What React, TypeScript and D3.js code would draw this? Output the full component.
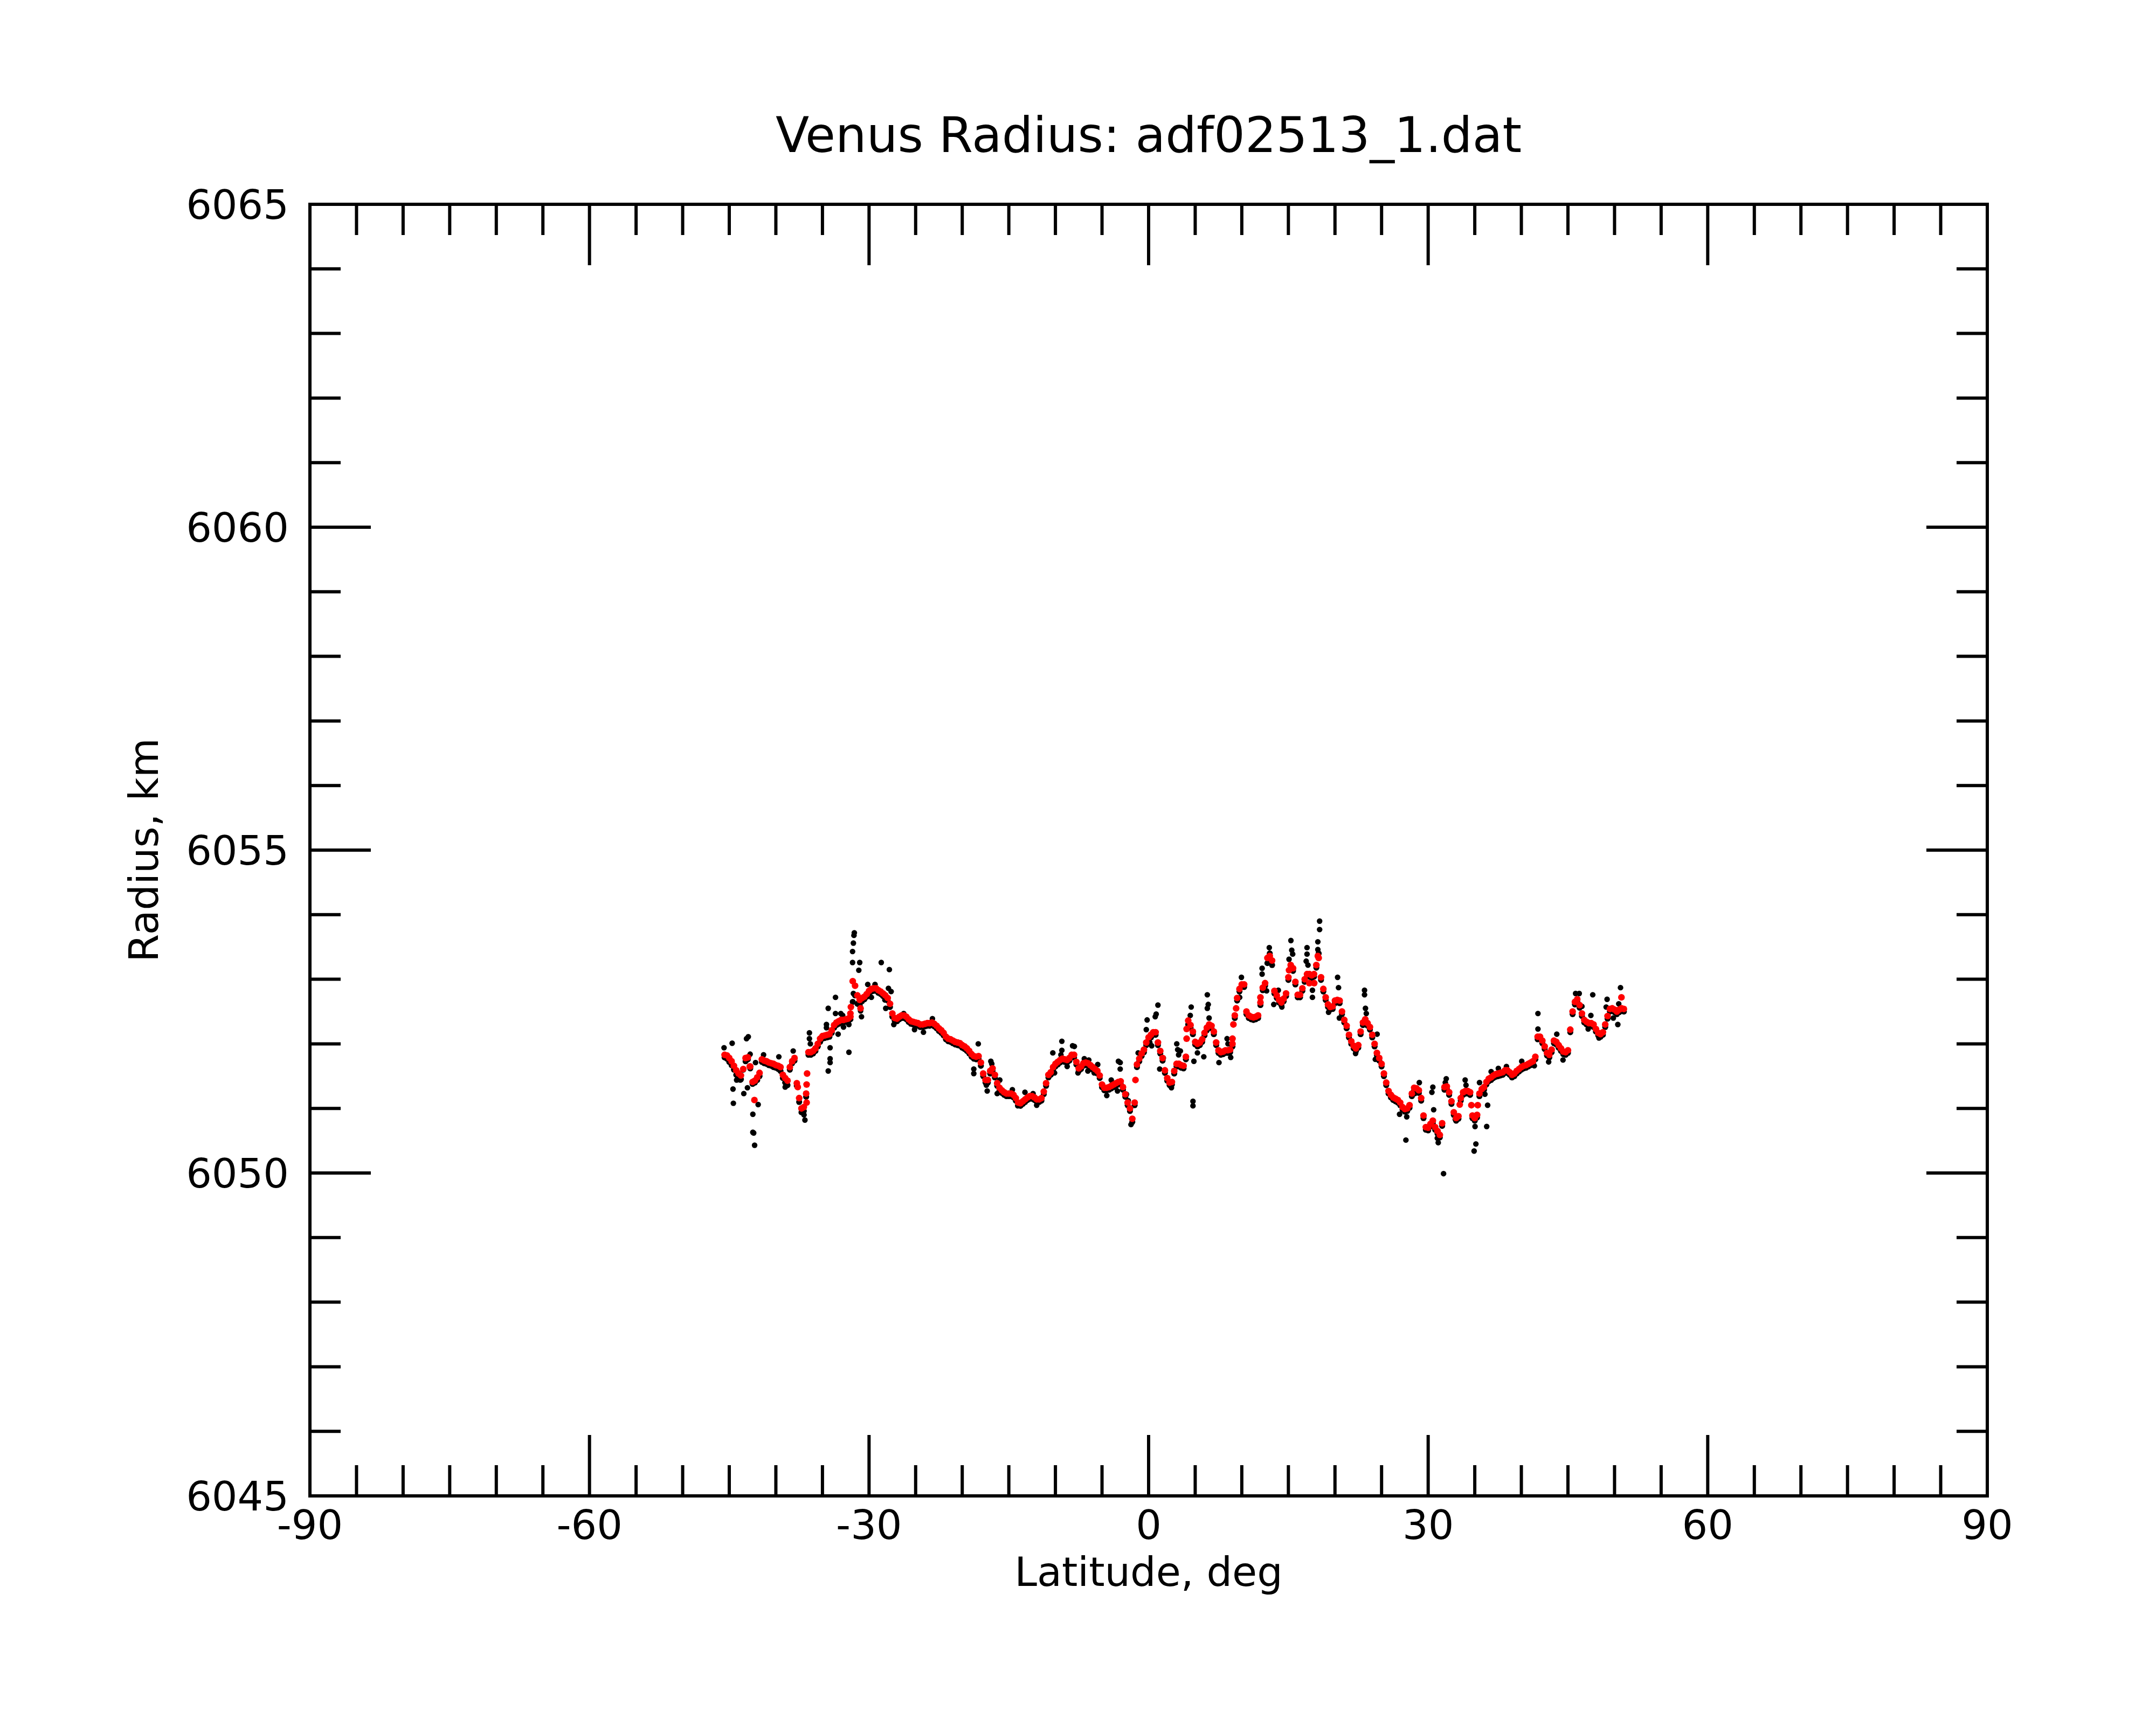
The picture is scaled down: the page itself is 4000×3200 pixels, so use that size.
import React from "react";
import * as d3 from "d3";

// ---- data ----
const latStart = -45.5;
const latStep = 0.25;

// smoothed radius (red), km, every 0.25 deg from -45.5 to 51.0
const redRadius: number[] = [
  6051.83, 6051.82, 6051.78, 6051.73, 6051.66, 6051.59, 6051.54, 6051.51, 6051.61, 6051.78,
  6051.79, 6051.65, 6051.41, 6051.43, 6051.48, 6051.55, 6051.76, 6051.74, 6051.73, 6051.71,
  6051.70, 6051.69, 6051.67, 6051.66, 6051.64, 6051.52, 6051.47, 6051.43, 6051.64, 6051.73,
  6051.78, 6051.39, 6051.16, 6051.00, 6051.02, 6051.23, 6051.87, 6051.87, 6051.89, 6051.93,
  6052.00, 6052.08, 6052.12, 6052.13, 6052.14, 6052.15, 6052.21, 6052.29, 6052.33, 6052.35,
  6052.37, 6052.37, 6052.38, 6052.39, 6052.42, 6052.97, 6052.90, 6052.75, 6052.68, 6052.71,
  6052.73, 6052.77, 6052.82, 6052.85, 6052.86, 6052.86, 6052.83, 6052.81, 6052.78, 6052.75,
  6052.71, 6052.62, 6052.47, 6052.40, 6052.39, 6052.42, 6052.44, 6052.44, 6052.42, 6052.38,
  6052.35, 6052.34, 6052.33, 6052.32, 6052.30, 6052.30, 6052.31, 6052.32, 6052.32, 6052.33,
  6052.31, 6052.28, 6052.24, 6052.21, 6052.17, 6052.11, 6052.08,
  6052.07, 6052.05, 6052.03, 6052.02, 6052.01, 6051.98, 6051.96, 6051.93, 6051.89, 6051.84,
  6051.81, 6051.80, 6051.81, 6051.71, 6051.54, 6051.44, 6051.44, 6051.58, 6051.62, 6051.52,
  6051.39, 6051.32, 6051.28, 6051.25, 6051.23, 6051.23, 6051.23, 6051.21, 6051.16, 6051.09,
  6051.08, 6051.11, 6051.14, 6051.17, 6051.19, 6051.19, 6051.17, 6051.14, 6051.14, 6051.16,
  6051.26, 6051.39, 6051.52, 6051.56, 6051.64, 6051.69, 6051.72, 6051.75, 6051.77, 6051.76,
  6051.75, 6051.78, 6051.83, 6051.83, 6051.72, 6051.62, 6051.65, 6051.70, 6051.71, 6051.70,
  6051.67, 6051.64, 6051.61, 6051.58, 6051.51, 6051.37, 6051.32, 6051.32, 6051.33, 6051.35,
  6051.37, 6051.39, 6051.41, 6051.42, 6051.33, 6051.22, 6051.09, 6051.00, 6050.84, 6051.09,
  6051.68, 6051.77, 6051.85, 6051.91, 6052.02, 6052.10, 6052.14, 6052.18, 6052.18, 6052.02,
  6051.89, 6051.78, 6051.59, 6051.47, 6051.40, 6051.41, 6051.58, 6051.69, 6051.69, 6051.67,
  6051.66, 6051.80, 6052.36, 6052.29, 6052.19, 6052.03, 6052.00, 6052.02, 6052.07, 6052.17,
  6052.25, 6052.30, 6052.28, 6052.19, 6052.02, 6051.90, 6051.87, 6051.88, 6051.90, 6051.90,
  6051.91, 6052.00, 6052.44, 6052.71, 6052.85, 6052.92, 6052.92, 6052.50, 6052.44, 6052.42,
  6052.41, 6052.42, 6052.44, 6052.64, 6052.87, 6052.94, 6053.33, 6053.36, 6053.29, 6052.82,
  6052.75, 6052.68, 6052.64, 6052.70, 6052.78, 6053.03, 6053.22, 6053.17, 6052.96, 6052.76,
  6052.76, 6052.86, 6053.00, 6053.08, 6053.08, 6053.06, 6053.08, 6053.22, 6053.33, 6053.03,
  6052.85, 6052.72, 6052.61, 6052.57, 6052.58, 6052.67, 6052.68, 6052.67, 6052.50, 6052.37,
  6052.28, 6052.14, 6052.04, 6051.97, 6051.93, 6051.98, 6052.19, 6052.33, 6052.38, 6052.32,
  6052.26, 6052.14, 6052.00, 6051.86, 6051.78, 6051.69, 6051.54, 6051.40, 6051.27, 6051.21,
  6051.17, 6051.15, 6051.13, 6051.09, 6051.02, 6050.99, 6051.00, 6051.05, 6051.23,
  6051.32, 6051.31, 6051.28, 6051.16, 6050.89, 6050.71, 6050.70, 6050.76, 6050.81, 6050.71,
  6050.65, 6050.59, 6050.77, 6051.33, 6051.34, 6051.25, 6051.11, 6050.94, 6050.85, 6050.88,
  6051.16, 6051.25, 6051.27, 6051.27, 6051.25, 6050.89, 6050.85, 6050.90, 6051.23, 6051.30,
  6051.33, 6051.41, 6051.46, 6051.48, 6051.51, 6051.53, 6051.54, 6051.55, 6051.56, 6051.59,
  6051.59, 6051.56, 6051.52, 6051.54, 6051.58, 6051.61, 6051.64, 6051.66, 6051.67, 6051.69,
  6051.71, 6051.73, 6051.80, 6052.11, 6052.11, 6052.05, 6051.96, 6051.86, 6051.83, 6051.91,
  6052.05, 6052.03, 6051.98, 6051.93, 6051.88, 6051.87, 6051.90, 6052.22, 6052.50, 6052.65,
  6052.69, 6052.60, 6052.47, 6052.37, 6052.34, 6052.32, 6052.32, 6052.30, 6052.23, 6052.17,
  6052.15, 6052.18, 6052.30, 6052.43, 6052.54, 6052.55, 6052.53, 6052.50, 6052.53, 6052.55,
  6052.54,
];

// extra smoothed points off the grid: [lat, radius]
const redExtra: [number, number][] = [
  [-42.8, 6051.65], [-42.3, 6051.13], [-37.65, 6051.33], [-36.7, 6051.09], [-36.7, 6051.37],
  [-36.65, 6051.54], [-32.0, 6052.47], [-31.95, 6052.57], [-30.91, 6052.55], [-1.41, 6051.44],
  [4.08, 6052.08], [4.08, 6052.23], [9.0, 6052.08], [9.1, 6052.30], [9.39, 6052.55],
  [12.0, 6052.72], [15.07, 6053.14], [17.25, 6052.94], [17.77, 6052.94], [18.16, 6053.36],
  [33.39, 6051.06], [34.64, 6051.05], [35.32, 6051.05], [50.74, 6052.72],
];

// raw radius (black), km, same latitude grid
const blackRadius: number[] = [
  6051.79, 6051.77, 6051.72, 6051.67, 6051.60, 6051.52, 6051.47, 6051.45, 6051.60, 6051.73,
  6051.76, 6051.62, 6051.38, 6051.40, 6051.44, 6051.50, 6051.72, 6051.70, 6051.69, 6051.67,
  6051.66, 6051.64, 6051.63, 6051.61, 6051.58, 6051.47, 6051.40, 6051.36, 6051.60, 6051.70,
  6051.74, 6051.35, 6051.10, 6050.94, 6050.96, 6051.18, 6051.83, 6051.83, 6051.85, 6051.89,
  6051.96, 6052.03, 6052.08, 6052.09, 6052.10, 6052.11, 6052.17, 6052.25, 6052.29, 6052.31,
  6052.33, 6052.33, 6052.34, 6052.35, 6052.38, 6052.65, 6052.75, 6052.62, 6052.60, 6052.66,
  6052.69, 6052.73, 6052.78, 6052.81, 6052.82, 6052.82, 6052.79, 6052.77, 6052.74, 6052.71,
  6052.67, 6052.57, 6052.42, 6052.36, 6052.35, 6052.38, 6052.40, 6052.40, 6052.38, 6052.34,
  6052.31, 6052.30, 6052.29, 6052.28, 6052.26, 6052.26, 6052.27, 6052.28, 6052.28, 6052.29,
  6052.27, 6052.24, 6052.20, 6052.17, 6052.13, 6052.07, 6052.04,
  6052.03, 6052.01, 6051.99, 6051.98, 6051.97, 6051.94, 6051.92, 6051.89, 6051.85, 6051.80,
  6051.77, 6051.76, 6051.77, 6051.66, 6051.50, 6051.40, 6051.40, 6051.54, 6051.58, 6051.48,
  6051.35, 6051.28, 6051.24, 6051.21, 6051.19, 6051.19, 6051.19, 6051.17, 6051.12, 6051.05,
  6051.04, 6051.07, 6051.10, 6051.13, 6051.15, 6051.15, 6051.13, 6051.10, 6051.10, 6051.12,
  6051.22, 6051.35, 6051.48, 6051.52, 6051.60, 6051.65, 6051.68, 6051.71, 6051.73, 6051.72,
  6051.71, 6051.74, 6051.79, 6051.79, 6051.68, 6051.58, 6051.61, 6051.66, 6051.67, 6051.66,
  6051.63, 6051.60, 6051.57, 6051.54, 6051.47, 6051.33, 6051.28, 6051.28, 6051.29, 6051.31,
  6051.33, 6051.35, 6051.37, 6051.38, 6051.29, 6051.18, 6051.05, 6050.96, 6050.79, 6051.05,
  6051.64, 6051.73, 6051.81, 6051.87, 6051.98, 6052.06, 6052.10, 6052.14, 6052.14, 6051.98,
  6051.85, 6051.74, 6051.55, 6051.43, 6051.36, 6051.37, 6051.54, 6051.65, 6051.65, 6051.63,
  6051.62, 6051.76, 6052.30, 6052.25, 6052.15, 6051.99, 6051.96, 6051.98, 6052.03, 6052.13,
  6052.21, 6052.26, 6052.24, 6052.15, 6051.98, 6051.86, 6051.83, 6051.84, 6051.86, 6051.86,
  6051.87, 6051.96, 6052.40, 6052.67, 6052.81, 6052.88, 6052.88, 6052.46, 6052.40, 6052.38,
  6052.37, 6052.38, 6052.40, 6052.60, 6052.83, 6052.90, 6053.25, 6053.40, 6053.22, 6052.78,
  6052.71, 6052.64, 6052.60, 6052.66, 6052.74, 6052.99, 6053.18, 6053.13, 6052.92, 6052.72,
  6052.72, 6052.82, 6052.96, 6053.04, 6053.04, 6053.02, 6053.04, 6053.18, 6053.40, 6052.99,
  6052.81, 6052.68, 6052.57, 6052.53, 6052.54, 6052.63, 6052.64, 6052.63, 6052.46, 6052.33,
  6052.24, 6052.10, 6052.00, 6051.93, 6051.89, 6051.94, 6052.15, 6052.29, 6052.34, 6052.28,
  6052.22, 6052.10, 6051.96, 6051.82, 6051.74, 6051.65, 6051.50, 6051.36, 6051.23, 6051.17,
  6051.13, 6051.11, 6051.09, 6051.05, 6050.98, 6050.95, 6050.96, 6051.01, 6051.19,
  6051.28, 6051.27, 6051.24, 6051.12, 6050.85, 6050.67, 6050.66, 6050.72, 6050.77, 6050.67,
  6050.61, 6050.55, 6050.73, 6051.29, 6051.30, 6051.21, 6051.07, 6050.90, 6050.81, 6050.84,
  6051.12, 6051.21, 6051.23, 6051.23, 6051.21, 6050.85, 6050.81, 6050.86, 6051.19, 6051.26,
  6051.29, 6051.37, 6051.42, 6051.44, 6051.47, 6051.49, 6051.50, 6051.51, 6051.52, 6051.55,
  6051.55, 6051.52, 6051.48, 6051.50, 6051.54, 6051.57, 6051.60, 6051.62, 6051.63, 6051.65,
  6051.67, 6051.69, 6051.76, 6052.07, 6052.07, 6052.01, 6051.92, 6051.82, 6051.79, 6051.87,
  6052.01, 6051.99, 6051.94, 6051.89, 6051.84, 6051.83, 6051.86, 6052.18, 6052.46, 6052.61,
  6052.65, 6052.56, 6052.43, 6052.33, 6052.30, 6052.28, 6052.28, 6052.26, 6052.19, 6052.13,
  6052.11, 6052.14, 6052.26, 6052.39, 6052.50, 6052.51, 6052.49, 6052.46, 6052.49, 6052.51,
  6052.50,
];

// scattered raw points: [lat, radius]
const blackScatter: [number, number][] = [
  [-45.56, 6051.94], [-44.69, 6052.01], [-44.60, 6051.30], [-44.56, 6051.08], [-44.21, 6051.44],
  [-43.82, 6051.44], [-43.44, 6051.23], [-43.05, 6051.32], [-43.15, 6052.08], [-42.96, 6052.11],
  [-42.76, 6051.84], [-42.47, 6050.91], [-42.47, 6050.63], [-42.38, 6050.62], [-42.28, 6050.43],
  [-41.90, 6051.06], [-42.18, 6051.71], [-41.32, 6051.83], [-39.68, 6051.80], [-39.00, 6051.33],
  [-38.14, 6051.89], [-36.88, 6050.82], [-36.98, 6050.90], [-36.40, 6052.17], [-36.40, 6052.08],
  [-36.30, 6052.00], [-34.57, 6052.30], [-34.57, 6052.25], [-34.38, 6052.55], [-34.18, 6051.94],
  [-34.18, 6051.77], [-34.18, 6051.71], [-34.38, 6051.58], [-33.60, 6052.72], [-33.60, 6052.47],
  [-33.03, 6052.47], [-32.83, 6052.44], [-33.32, 6052.15], [-32.74, 6052.26], [-32.16, 6052.30],
  [-32.16, 6051.87], [-31.77, 6053.26], [-31.77, 6053.43], [-31.68, 6053.56], [-31.62, 6053.68],
  [-31.58, 6053.72], [-31.00, 6053.26], [-31.10, 6053.14], [-31.68, 6052.78], [-30.91, 6052.51],
  [-30.81, 6052.42], [-30.14, 6052.92], [-29.36, 6052.92], [-28.69, 6053.26], [-27.82, 6053.15],
  [-27.92, 6052.86], [-27.63, 6052.81], [-28.30, 6052.68], [-28.21, 6052.55], [-27.34, 6052.30],
  [-25.12, 6052.22], [-24.16, 6052.18], [-26.28, 6052.47], [-23.20, 6052.39], [-29.75, 6052.72],
  [-18.28, 6052.00], [-18.76, 6051.61], [-18.76, 6051.54], [-16.93, 6051.73], [-16.83, 6051.69],
  [-17.32, 6051.27], [-17.41, 6051.36], [-16.25, 6051.23], [-15.97, 6051.44], [-14.62, 6051.29],
  [-14.04, 6051.04], [-13.27, 6051.25], [-12.01, 6051.05], [-12.40, 6051.23], [-10.28, 6051.86],
  [-10.09, 6051.55], [-9.31, 6052.04], [-9.31, 6051.90], [-9.41, 6051.83], [-8.74, 6051.65],
  [-8.16, 6051.97], [-7.97, 6051.96], [-7.58, 6051.55], [-6.90, 6051.77], [-6.42, 6051.75],
  [-6.52, 6051.58], [-5.84, 6051.55], [-5.46, 6051.68], [-4.49, 6051.20], [-4.01, 6051.44],
  [-3.34, 6051.27], [-3.24, 6051.73], [-3.05, 6051.71], [-3.05, 6051.61], [-2.37, 6051.22],
  [-2.18, 6051.12], [-1.89, 6050.75], [-1.12, 6051.86], [-0.16, 6052.37], [-0.25, 6052.22],
  [0.71, 6052.42], [0.81, 6052.46], [1.00, 6052.60], [0.33, 6051.97], [0.13, 6052.02],
  [1.19, 6051.61], [1.58, 6051.78], [3.02, 6052.00], [3.12, 6051.91], [3.22, 6051.83],
  [2.45, 6051.32], [3.41, 6051.89], [4.57, 6052.57], [4.47, 6052.44], [4.86, 6051.73],
  [4.76, 6051.11], [4.76, 6051.04], [5.24, 6051.86], [5.92, 6051.80], [6.30, 6052.76],
  [6.30, 6052.55], [6.40, 6052.61], [6.49, 6052.40], [7.55, 6051.71], [8.42, 6052.08],
  [8.52, 6052.00], [8.81, 6051.79], [9.96, 6053.03], [9.77, 6052.72], [12.18, 6053.17],
  [12.18, 6053.08], [12.66, 6052.82], [12.95, 6053.49], [13.92, 6052.83], [13.43, 6052.61],
  [14.30, 6052.57], [15.27, 6053.60], [15.36, 6053.45], [15.46, 6053.39], [15.07, 6053.31],
  [17.00, 6053.49], [17.00, 6053.39], [16.91, 6053.28], [17.10, 6053.22], [17.58, 6052.83],
  [17.58, 6052.72], [18.35, 6053.90], [18.35, 6053.77], [18.16, 6053.58], [18.16, 6053.46],
  [20.28, 6053.03], [20.38, 6052.87], [19.31, 6052.49], [20.47, 6052.40], [23.17, 6052.83],
  [23.17, 6052.76], [23.27, 6052.55], [23.36, 6052.47], [24.52, 6052.15], [22.21, 6051.85],
  [24.33, 6051.76], [26.93, 6050.91], [27.70, 6050.87], [27.61, 6050.51], [29.05, 6051.40],
  [28.57, 6051.23], [30.50, 6051.33], [30.40, 6051.25], [30.59, 6050.98], [31.08, 6050.47],
  [30.98, 6050.54], [31.65, 6049.99], [31.94, 6051.46], [31.84, 6051.40], [32.91, 6050.83],
  [33.97, 6051.44], [34.06, 6051.36], [35.03, 6050.72], [35.12, 6050.45], [34.93, 6050.34],
  [36.28, 6050.72], [36.38, 6051.05], [35.51, 6051.40], [36.09, 6051.22], [36.76, 6051.57],
  [37.53, 6051.62], [38.40, 6051.65], [40.04, 6051.73], [41.39, 6051.66], [41.78, 6052.47],
  [41.78, 6052.23], [42.93, 6051.72], [43.80, 6052.15], [44.47, 6051.75], [45.82, 6052.78],
  [46.21, 6052.78], [46.50, 6052.58], [47.66, 6052.76], [47.46, 6052.44], [47.17, 6052.23],
  [48.33, 6052.09], [49.20, 6052.69], [49.10, 6052.57], [50.64, 6052.87], [50.45, 6052.62],
  [50.35, 6052.30], [49.87, 6052.40],
];

const xMajorTicks = [-90, -60, -30, 0, 30, 60, 90];
const xTickLabels = ["-90", "-60", "-30", "0", "30", "60", "90"];
const yMajorTicks = [6045, 6050, 6055, 6060, 6065];
const yTickLabels = ["6045", "6050", "6055", "6060", "6065"];

const titleText = "Venus Radius: adf02513_1.dat";
const xTitle = "Latitude, deg";
const yTitle = "Radius, km";

// ---- layout ----
const W = 4000;
const H = 3200;
const L = 575;
const R = 3687;
const T = 379;
const B = 2775;
const FONT = "DejaVu Sans, Verdana, sans-serif";

export default function App() {
  const x = d3.scaleLinear().domain([-90, 90]).range([L, R]);
  const y = d3.scaleLinear().domain([6045, 6065]).range([B, T]);

  const xMinor = d3.range(-90, 90.001, 5).filter((v) => !xMajorTicks.includes(v));
  const yMinor = d3.range(6045, 6065.001, 1).filter((v) => !yMajorTicks.includes(v));

  const majorLen = 113;
  const minorLen = 57;
  const sw = 6;

  const latOf = (i: number) => latStart + i * latStep;

  return (
    <svg
      width={W}
      height={H}
      viewBox={`0 0 ${W} ${H}`}
      style={{ position: "absolute", left: 0, top: 0, display: "block", background: "#fff" }}
    >
      <rect x={0} y={0} width={W} height={H} fill="#fff" />

      {/* raw data (black) */}
      <g fill="#000">
        {blackRadius.map((r, i) => (
          <circle key={`b${i}`} cx={x(latOf(i))} cy={y(r)} r={5.6} />
        ))}
        {blackScatter.map(([la, r], i) => (
          <circle key={`bs${i}`} cx={x(la)} cy={y(r)} r={5.2} />
        ))}
      </g>

      {/* smoothed data (red) */}
      <g fill="#ff0000">
        {redRadius.map((r, i) => (
          <circle key={`r${i}`} cx={x(latOf(i))} cy={y(r)} r={6.2} />
        ))}
        {redExtra.map(([la, r], i) => (
          <circle key={`re${i}`} cx={x(la)} cy={y(r)} r={6.2} />
        ))}
      </g>

      {/* frame */}
      <rect x={L} y={T} width={R - L} height={B - T} fill="none" stroke="#000" strokeWidth={sw} />

      {/* ticks on all four sides, pointing inward */}
      <g stroke="#000" strokeWidth={sw}>
        {xMajorTicks.map((v) => (
          <g key={`xm${v}`}>
            <line x1={x(v)} x2={x(v)} y1={B} y2={B - majorLen} />
            <line x1={x(v)} x2={x(v)} y1={T} y2={T + majorLen} />
          </g>
        ))}
        {xMinor.map((v) => (
          <g key={`xn${v}`}>
            <line x1={x(v)} x2={x(v)} y1={B} y2={B - minorLen} />
            <line x1={x(v)} x2={x(v)} y1={T} y2={T + minorLen} />
          </g>
        ))}
        {yMajorTicks.map((v) => (
          <g key={`ym${v}`}>
            <line x1={L} x2={L + majorLen} y1={y(v)} y2={y(v)} />
            <line x1={R} x2={R - majorLen} y1={y(v)} y2={y(v)} />
          </g>
        ))}
        {yMinor.map((v) => (
          <g key={`yn${v}`}>
            <line x1={L} x2={L + minorLen} y1={y(v)} y2={y(v)} />
            <line x1={R} x2={R - minorLen} y1={y(v)} y2={y(v)} />
          </g>
        ))}
      </g>

      {/* tick labels */}
      <g fontFamily={FONT} fontSize={75} fill="#000">
        {xMajorTicks.map((v, i) => (
          <text key={`xl${v}`} x={x(v)} y={2855} textAnchor="middle">
            {xTickLabels[i]}
          </text>
        ))}
        {yMajorTicks.map((v, i) => (
          <text key={`yl${v}`} x={536} y={y(v) + 27} textAnchor="end">
            {yTickLabels[i]}
          </text>
        ))}
      </g>

      {/* titles */}
      <text x={(L + R) / 2} y={282} textAnchor="middle" fontFamily={FONT} fontSize={91} fill="#000">
        {titleText}
      </text>
      <text x={(L + R) / 2} y={2942} textAnchor="middle" fontFamily={FONT} fontSize={75} fill="#000">
        {xTitle}
      </text>
      <text
        transform={`translate(293, ${(T + B) / 2}) rotate(-90)`}
        textAnchor="middle"
        fontFamily={FONT}
        fontSize={75}
        fill="#000"
      >
        {yTitle}
      </text>
    </svg>
  );
}
